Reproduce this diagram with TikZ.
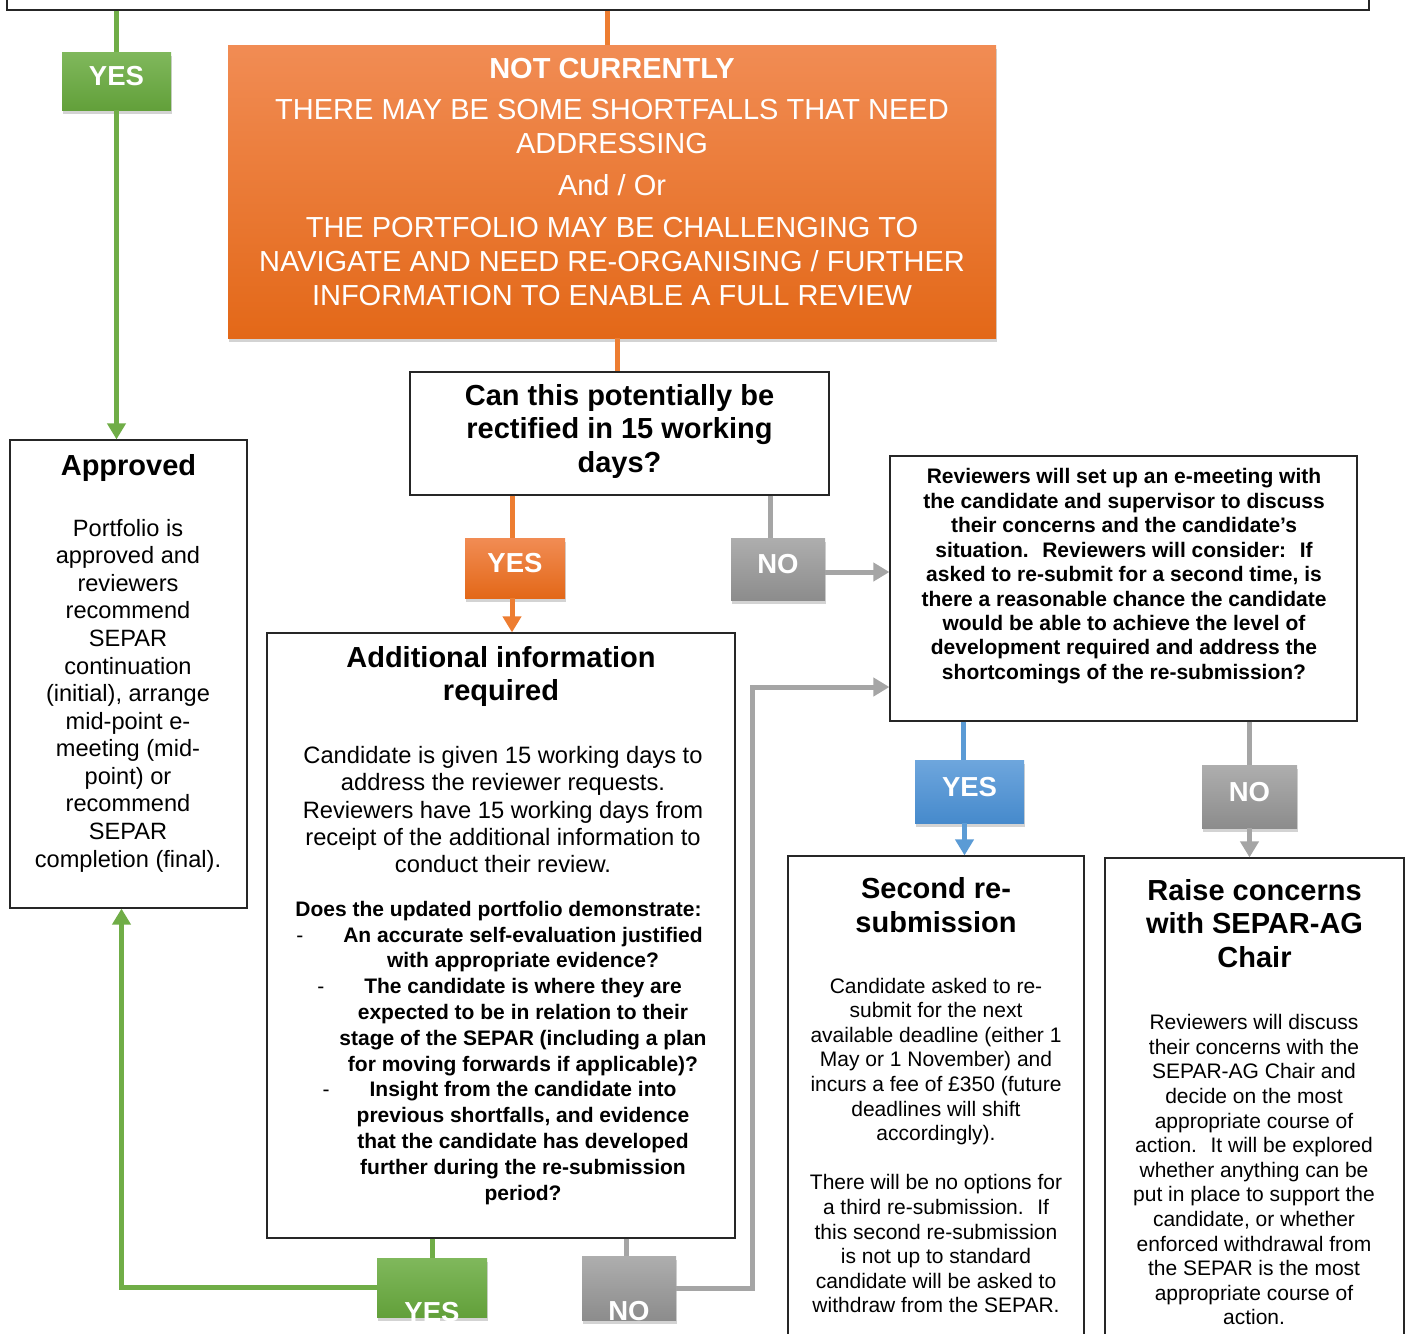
\documentclass[tikz,border=0pt]{standalone}
\usepackage{fontspec}
\setmainfont{Liberation Sans}
\usepackage{tikz}
\usetikzlibrary{arrows.meta}
\usetikzlibrary{shadows}
\usetikzlibrary{positioning}
\definecolor{yesgreen}{RGB}{112,173,71}
\definecolor{greentop}{RGB}{128,184,92}
\definecolor{greenbot}{RGB}{98,160,58}
\definecolor{flowrange}{RGB}{237,125,49}
\definecolor{orangetop}{RGB}{241,140,84}
\definecolor{orangebot}{RGB}{227,104,24}
\definecolor{nogrey}{RGB}{165,165,165}
\definecolor{greytop}{RGB}{174,174,174}
\definecolor{greybot}{RGB}{140,140,140}
\definecolor{flowblue}{RGB}{91,155,213}
\definecolor{bluetop}{RGB}{110,166,221}
\definecolor{bluebot}{RGB}{70,138,204}
\tikzset{box node/.style={rectangle,draw=black!85,line width=1.2pt,fill=white,inner sep=0pt}}
\tikzset{shade node/.style={rectangle,inner sep=0pt,drop shadow={opacity=0.35,shadow xshift=1pt,shadow yshift=-4pt}}}
\tikzset{tag node/.style={shade node,text=white,font=\fontsize{27.5}{30}\selectfont\bfseries,text height=9pt,text depth=0pt}}
\tikzset{green shade/.style={top color=greentop,bottom color=greenbot},
         orange shade/.style={top color=orangetop,bottom color=orangebot},
         grey shade/.style={top color=greytop,bottom color=greybot},
         blue shade/.style={top color=bluetop,bottom color=bluebot}}
\tikzset{txt/.style={inner sep=0pt,align=center,anchor=north},
         head text/.style={txt,font=\fontsize{29}{33.5}\selectfont\bfseries},
         body text/.style={txt,font=\fontsize{23.6}{27.4}\selectfont},
         small text/.style={txt,font=\fontsize{21}{24.6}\selectfont},
         small bold/.style={txt,font=\fontsize{21}{24.5}\selectfont\bfseries}}
\tikzset{green line/.style={draw=yesgreen,line width=5pt},
         orange line/.style={draw=flowrange,line width=5pt},
         grey line/.style={draw=nogrey,line width=5pt},
         blue line/.style={draw=flowblue,line width=5pt},
         tip/.style={-{Triangle[length=16pt,width=18pt]}}}

\begin{document}
\begin{tikzpicture}[x=1pt,y=-1pt]
    \useasboundingbox (0,0) rectangle (1407,1333);

    \node[box node,minimum width=1362,minimum height=60] (decision) at (688,-20) {};
    \node[box node,minimum width=237,minimum height=468] (approved) at (128.5,674) {};
    \node[box node,minimum width=419,minimum height=123] (question) at (619.5,433.5) {};
    \node[box node,minimum width=467,minimum height=265] (meeting) at (1123.5,588.5) {};
    \node[box node,minimum width=468,minimum height=605] (addinfo) at (501,935.5) {};
    \node[box node,minimum width=296,minimum height=520] (second) at (936,1116) {};
    \node[box node,minimum width=299,minimum height=520] (raise) at (1254.5,1118) {};

    \node[shade node,orange shade,minimum width=768,minimum height=293] (notcur) at (612,191.5) {};

    \node[tag node,green shade,minimum width=109,minimum height=58] (yes1) at (116.5,81) {YES};
    \node[tag node,orange shade,minimum width=100,minimum height=60] (yes2) at (515,568) {YES};
    \node[tag node,grey shade,minimum width=94,minimum height=62] (no1) at (778,569) {NO};
    \node[tag node,blue shade,minimum width=109,minimum height=63] (yes3) at (969.5,791.5) {YES};
    \node[tag node,grey shade,minimum width=95,minimum height=63] (no2) at (1249.5,796.5) {NO};
    \node[tag node,green shade,minimum width=110,minimum height=59] (yes4) at (432,1287.5) {\raisebox{-29.5pt}[0pt][0pt]{YES}};
    \node[tag node,grey shade,minimum width=94,minimum height=64] (no3) at (629,1288) {\raisebox{-27.5pt}[0pt][0pt]{NO}};

    \draw[green line] (yes1.north |- decision.south) -- (yes1.north);
    \draw[green line,tip] (yes1.south) -- (yes1.south |- approved.north);
    \draw[orange line] ([xshift=-5pt]notcur.north |- decision.south) -- ([xshift=-5pt]notcur.north);
    \draw[orange line] ([xshift=5pt]notcur.south) -- ([xshift=5pt]notcur.south |- question.north);
    \draw[orange line] ([xshift=-3pt]yes2.north |- question.south) -- ([xshift=-3pt]yes2.north);
    \draw[orange line,tip] ([xshift=-3pt]yes2.south) -- ([xshift=-3pt]yes2.south |- addinfo.north);
    \draw[grey line] ([xshift=-8pt]no1.north |- question.south) -- ([xshift=-8pt]no1.north);
    \draw[grey line,tip] ([yshift=-3pt]no1.east) -- ([yshift=-3pt]no1.east -| meeting.west);
    \draw[blue line] ([xshift=-6pt]yes3.north |- meeting.south) -- ([xshift=-6pt]yes3.north);
    \draw[blue line,tip] ([xshift=-5pt]yes3.south) -- ([xshift=-5pt]yes3.south |- second.north);
    \draw[grey line] (no2.north |- meeting.south) -- (no2.north);
    \draw[grey line,tip] (no2.south) -- (no2.south |- raise.north);
    \draw[green line] (yes4.north |- addinfo.south) -- (yes4.north);
    \draw[green line,tip] (yes4.west) -| ([xshift=-7pt]approved.south);
    \draw[grey line] ([xshift=-3pt]no3.north |- addinfo.south) -- ([xshift=-3pt]no3.north);
    \coordinate (detour) at (752,687);
    \draw[grey line,tip] (no3.east) -| (detour) -- (detour -| meeting.west);

    \node[txt,text=white,font=\fontsize{29}{34}\selectfont] (notcurtxt) at (612,58.5)
        {\textbf{NOT CURRENTLY}\\[6.7pt]THERE MAY BE SOME SHORTFALLS THAT NEED\\ADDRESSING\\[7.7pt]And / Or\\[7.7pt]THE PORTFOLIO MAY BE CHALLENGING TO\\NAVIGATE AND NEED RE-ORGANISING / FURTHER\\INFORMATION TO ENABLE A FULL REVIEW};
    \node[head text] (questiontxt) at (619.5,384.2) {Can this potentially be\\rectified in 15 working\\days?};
    \node[head text] (approvedhead) at (128.5,454.5) {Approved};
    \node[body text,font=\fontsize{23.6}{27.56}\selectfont] (approvedtxt) at (128,519)
        {Portfolio is\\approved and\\reviewers\\recommend\\SEPAR\\continuation\\(initial), arrange\\mid-point e-\\meeting (mid-\\point) or\\recommend\\SEPAR\\completion (final).};
    \node[small bold,font=\fontsize{21}{24.46}\selectfont\bfseries] (meetingtxt) at (1124,468.3)
        {Reviewers will set up an e-meeting with\\the candidate and supervisor to discuss\\their concerns and the candidate’s\\situation.~ Reviewers will consider:~ If\\asked to re-submit for a second time, is\\there a reasonable chance the candidate\\would be able to achieve the level of\\development required and address the\\shortcomings of the re-submission?};
    \node[head text,font=\fontsize{29}{32.7}\selectfont\bfseries] (addinfohead) at (501,646.5) {Additional information\\required};
    \node[body text,font=\fontsize{23.7}{27.25}\selectfont] (addinfotxt) at (503,746.3)
        {Candidate is given 15 working days to\\address the reviewer requests.\\Reviewers have 15 working days from\\receipt of the additional information to\\conduct their review.};
    \node[small bold] (checkhead) at (498.5,901) {Does the updated portfolio demonstrate:};
    \node[small bold,font=\fontsize{21}{25.8}\selectfont\bfseries] (checklist) at (523,926.7)
        {\llap{\mdseries-\hspace{40pt}}An accurate self-evaluation justified\\with appropriate evidence?\\\llap{\mdseries-\hspace{40pt}}The candidate is where they are\\expected to be in relation to their\\stage of the SEPAR (including a plan\\for moving forwards if applicable)?\\\llap{\mdseries-\hspace{40pt}}Insight from the candidate into\\previous shortfalls, and evidence\\that the candidate has developed\\further during the re-submission\\period?};
    \node[head text,font=\fontsize{29}{33.4}\selectfont\bfseries] (secondhead) at (936,877.5) {Second re-\\submission};
    \node[small text] (secondtxt) at (936,977.7)
        {Candidate asked to re-\\submit for the next\\available deadline (either 1\\May or 1 November) and\\incurs a fee of £350 (future\\deadlines will shift\\accordingly).\\[24.6pt]There will be no options for\\a third re-submission.~ If\\this second re-submission\\is not up to standard\\candidate will be asked to\\withdraw from the SEPAR.};
    \node[head text,font=\fontsize{29}{33.4}\selectfont\bfseries] (raisehead) at (1254.5,879.2) {Raise concerns\\with SEPAR-AG\\Chair};
    \node[small text] (raisetxt) at (1254,1014.3)
        {Reviewers will discuss\\their concerns with the\\SEPAR-AG Chair and\\decide on the most\\appropriate course of\\action.~ It will be explored\\whether anything can be\\put in place to support the\\candidate, or whether\\enforced withdrawal from\\the SEPAR is the most\\appropriate course of\\action.};
\end{tikzpicture}
\end{document}
